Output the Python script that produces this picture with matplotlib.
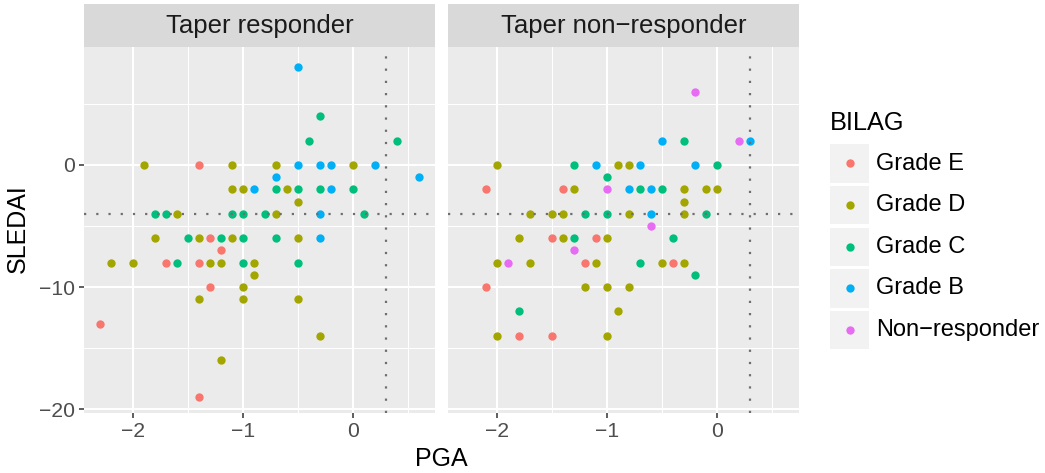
import matplotlib
matplotlib.use("Agg")
import matplotlib.pyplot as plt
from matplotlib.patches import Rectangle

plt.rcParams['font.family'] = ['Liberation Sans', 'DejaVu Sans']

# BILAG levels and ggplot hue colours
grades = ["Grade E", "Grade D", "Grade C", "Grade B", "Non\u2212responder"]
colors = ["#F8766D", "#A3A500", "#00BF7D", "#00B0F6", "#E76BF3"]
facets = ["Taper responder", "Taper non\u2212responder"]

# (PGA, SLEDAI) -- taper responders
resp_e = [(-1.4, 0), (-1.3, -6), (-1.2, -7), (-1.7, -8), (-1.4, -8), (-1.3, -10),
          (-2.3, -13), (-1.4, -19)]
resp_d = [(-1.9, 0), (-1.1, 0), (-0.7, 0), (0.0, 0), (-1.1, -2), (-1.0, -2), (-0.6, -2),
          (-0.5, -3), (-1.6, -4), (-0.7, -4), (-1.8, -6), (-1.4, -6), (-1.1, -6), (-0.5, -6),
          (-2.2, -8), (-2.0, -8), (-1.3, -8), (-1.2, -8), (-0.9, -8), (-0.9, -9), (-1.0, -10),
          (-1.4, -11), (-1.0, -11), (-0.5, -11), (-0.3, -14), (-1.2, -16)]
resp_c = [(-0.3, 4), (-0.4, 2), (0.4, 2), (-0.7, -2), (-0.5, -2), (-0.3, -2), (0.0, -2),
          (-1.8, -4), (-1.7, -4), (-1.1, -4), (-1.0, -4), (-0.8, -4), (0.1, -4), (-1.5, -6),
          (-1.2, -6), (-1.0, -6), (-0.7, -6), (-1.6, -8), (-1.0, -8), (-0.5, -8)]
resp_b = [(-0.5, 8), (-0.5, 0), (-0.3, 0), (-0.2, 0), (0.2, 0), (-0.7, -1), (0.6, -1),
          (-0.9, -2), (-0.2, -2), (-0.3, -4), (-0.3, -6)]
resp_nr = []

# taper non-responders
nonr_e = [(-2.1, -2), (-1.4, -2), (-1.5, -6), (-1.1, -6), (-1.2, -8), (-0.4, -8),
          (-2.1, -10), (-1.8, -14), (-1.5, -14)]
nonr_d = [(-2.0, 0), (-0.9, 0), (-0.8, 0), (-1.3, -2), (-0.3, -2), (-0.1, -2), (0.0, -2),
          (-0.3, -3), (-1.7, -4), (-1.5, -4), (-1.4, -4), (-0.8, -4), (-0.3, -4), (-1.8, -6),
          (-1.4, -6), (-1.0, -6), (-2.0, -8), (-1.7, -8), (-1.1, -8), (-0.5, -8), (-0.3, -8),
          (-1.2, -10), (-1.0, -10), (-0.8, -10), (-0.9, -12), (-2.0, -14), (-1.0, -14)]
nonr_c = [(-0.3, 2), (-1.3, 0), (0.0, 0), (-1.0, -1), (-0.7, -2), (-0.5, -2), (-1.2, -4),
          (-1.0, -4), (-0.1, -4), (-1.3, -6), (-0.4, -6), (-0.7, -8), (-0.2, -9), (-1.8, -12)]
nonr_b = [(-0.5, 2), (0.3, 2), (-1.1, 0), (-0.7, 0), (-0.2, 0), (-0.8, -2), (-0.6, -2),
          (-0.6, -4)]
nonr_nr = [(-0.2, 6), (0.2, 2), (-1.0, -2), (-0.6, -5), (-1.3, -7), (-1.9, -8)]

panel_data = [[resp_e, resp_d, resp_c, resp_b, resp_nr],
              [nonr_e, nonr_d, nonr_c, nonr_b, nonr_nr]]

pga_cut = 0.3
sledai_cut = -4

W, H = 1045, 473
fig = plt.figure(figsize=(W / 100, H / 100), dpi=100)


def box(x0, y0, x1, y1):
    return [x0 / W, 1 - y1 / H, (x1 - x0) / W, (y1 - y0) / H]


panel_x = [(84, 435), (448, 799)]
for i in range(2):
    x0, x1 = panel_x[i]
    ax = fig.add_axes(box(x0, 47, x1, 412.7))
    ax.set_facecolor("#EBEBEB")
    for s in ax.spines.values():
        s.set_visible(False)
    ax.set_xlim(-2.445, 0.745)
    ax.set_ylim(-20.3, 9.67)
    ax.set_xticks([-2, -1, 0])
    ax.set_xticks([-1.5, -0.5, 0.5], minor=True)
    ax.set_yticks([-20, -10, 0])
    ax.set_yticks([-15, -5, 5], minor=True)
    ax.grid(which="major", color="white", lw=1.5)
    ax.grid(which="minor", color="white", lw=0.75)
    ax.set_axisbelow(True)
    ax.tick_params(which="major", length=3.6, width=1.1, color="#333333",
                   labelsize=15.2, labelcolor="#4D4D4D", pad=3)
    ax.tick_params(which="minor", length=0)
    if i == 1:
        ax.tick_params(axis="y", which="both", length=0, labelleft=False)
    for g in range(5):
        pts = panel_data[i][g]
        if pts:
            ax.scatter([p[0] for p in pts], [p[1] for p in pts], s=36,
                       color=colors[g], linewidths=0, zorder=3)
    ax.axhline(sledai_cut, color="#6E6E6E", lw=1.6, ls=(0, (1, 4.5)), zorder=4)
    ax.axvline(pga_cut, color="#6E6E6E", lw=1.6, ls=(0, (1, 4.5)), zorder=4)

    st = fig.add_axes(box(x0, 4, x1, 47))
    st.set_facecolor("#D9D9D9")
    st.set_xticks([])
    st.set_yticks([])
    for s in st.spines.values():
        s.set_visible(False)
    st.text(0.5, 0.5, facets[i], ha="center", va="center", fontsize=18.5,
            color="#1A1A1A", transform=st.transAxes)

fig.text(18 / W, 1 - 229 / H, "SLEDAI", rotation=90, ha="center", va="center",
         fontsize=18)
fig.text(441 / W, 1 - 459 / H, "PGA", ha="center", va="center", fontsize=18)

# legend, laid out in pixel space
lg = fig.add_axes([0, 0, 1, 1])
lg.set_xlim(0, W)
lg.set_ylim(H, 0)
lg.axis("off")
lg.text(830, 123, "BILAG", ha="left", va="center", fontsize=18.3)
for g in range(5):
    yc = 163.5 + g * 41.6
    lg.add_patch(Rectangle((830, yc - 19.2), 39, 38.4, color="#F2F2F2", lw=0))
    lg.scatter([849.5], [yc], s=36, color=colors[g], linewidths=0)
    lg.text(876, yc, grades[g], ha="left", va="center", fontsize=17)

fig.savefig("out.png", dpi=100)
